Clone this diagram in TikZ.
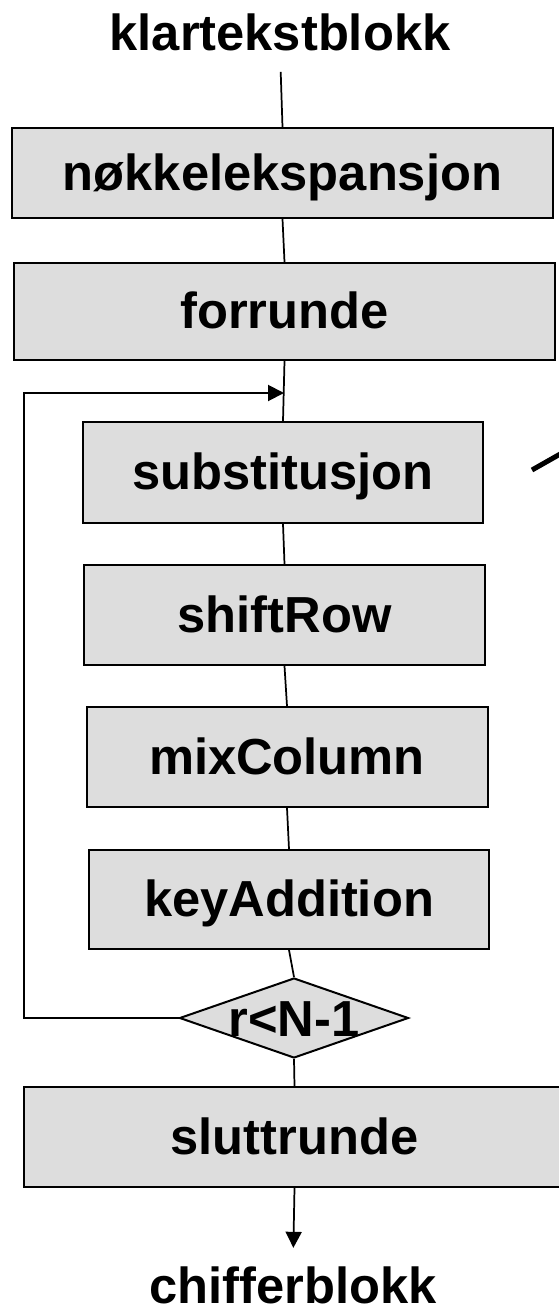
\documentclass[tikz,border=0pt]{standalone}
\usepackage{fontspec}
\setmainfont{Liberation Sans}
\usetikzlibrary{shapes.geometric,arrows.meta}
\definecolor{blokkgraa}{HTML}{DDDDDD}
\tikzset{every picture/.style={line width=0.75pt}}

\begin{document}
\begin{tikzpicture}[x=0.75pt,y=0.75pt,yscale=-1,xscale=1,
  storfont/.style={font=\fontsize{38}{46}\selectfont\bfseries},
  blokk/.style={storfont,draw,fill=blokkgraa,line width=1.5pt,inner sep=0pt,text height=34pt,text depth=8.5pt},
  tekst/.style={storfont,inner sep=0pt,text height=27pt,text depth=0pt},
  forb/.style={line width=1.3pt},
  pil/.style={line width=1.3pt,-{Triangle[length=12pt,width=12pt]}}]
%set diagram left start at 0, and has height of 1307
\useasboundingbox (0,0) rectangle (558,1307);

% Text Node
\node [tekst,anchor=base] (klar) at (280,50) {klartekstblokk};
%Shape: Rectangle
\node [blokk,minimum width=405.75pt,minimum height=67.5pt] (nok) at (282.5,173) {nøkkelekspansjon};
%Shape: Rectangle
\node [blokk,minimum width=405.75pt,minimum height=72.75pt] (forr) at (284.5,311.5) {forrunde};
%Shape: Rectangle
\node [blokk,minimum width=300pt,minimum height=75.75pt] (subs) at (283,472.5) {substitusjon};
%Shape: Rectangle
\node [blokk,minimum width=300.75pt,minimum height=75pt] (shift) at (284.5,615) {shiftRow};
%Shape: Rectangle
\node [blokk,minimum width=300.75pt,minimum height=75pt] (mix) at (287,757) {mixColumn};
%Shape: Rectangle
\node [blokk,minimum width=300pt,minimum height=74.25pt] (key) at (289,899.5) {keyAddition};
%Shape: Diamond
\node [blokk,shape=diamond,text height=,text depth=,minimum width=171.75pt,minimum height=60pt] (dia) at (294,1018)
  {\smash{\raisebox{-0.37em}{\makebox[0pt]{r<N-1}}}};
%Shape: Rectangle
\node [blokk,minimum width=405.75pt,minimum height=75pt] (slutt) at (294.5,1137) {sluttrunde};
% Text Node
\node [tekst,anchor=base] (chif) at (293,1303) {chifferblokk};

\coordinate (join) at (284,393);
\coordinate (venstre) at (24,393);

% connectors
\draw [forb,shorten <=16pt] (klar.south) -- (nok.north);
\draw [forb] (nok.south) -- (forr.north);
\draw [forb] (forr.south) -- (subs.north);
\draw [forb] (subs.south) -- (shift.north);
\draw [forb] (shift.south) -- (mix.north);
\draw [forb] (mix.south) -- (key.north);
\draw [forb] (key.south) -- (dia.north);
\draw [forb] (dia.south) -- (slutt.north);
\draw [pil,shorten >=14pt] (slutt.south) -- (chif.north);
% loop back
\draw [pil,line width=1.5pt] (dia.west) -| (venstre) -- (join);

%Shape: Line
\draw [line width=3.75pt] (532,470) -- (562,453);

\end{tikzpicture}
\end{document}
